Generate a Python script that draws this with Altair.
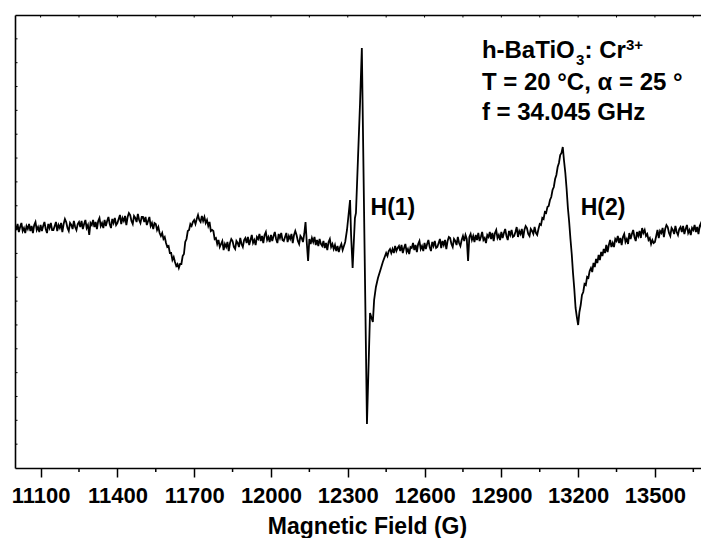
import altair as alt
import pandas as pd

FONT = "Liberation Sans"

# ---- EPR spectrum (arbitrary units) ----
# Segment A: 11000 ... 12290 G, one reading every 5 G (rows of 50 G)
sweep_a_start = 11000
sig_a = [
    243, 238, 244, 236, 241, 245, 237, 240, 235, 242,   # 11000
    239, 244, 237, 242, 235, 243, 246, 238, 241, 236,   # 11050
    243, 237, 242, 246, 239, 235, 244, 240, 245, 238,   # 11100
    238, 242, 246, 237, 243, 240, 245, 236, 244, 249,   # 11150
    246, 240, 237, 245, 243, 239, 247, 241, 238, 244,   # 11200
    246, 241, 247, 239, 244, 248, 240, 243, 233, 245,   # 11250
    243, 248, 241, 246, 239, 247, 250, 242, 245, 240,   # 11300
    248, 242, 247, 251, 244, 240, 249, 245, 250, 243,   # 11350
    245, 249, 253, 244, 250, 247, 252, 243, 251, 255,   # 11400
    253, 247, 244, 252, 250, 246, 254, 248, 245, 251,   # 11450
    251, 246, 251, 243, 247, 251, 242, 245, 239, 245,   # 11500
    244, 238, 241, 235, 232, 235, 229, 231, 225, 221,   # 11550
    222, 215, 215, 208, 211, 206, 202, 204, 200, 204,   # 11600
    204, 212, 214, 226, 229, 237, 238, 244, 242, 246,   # 11650
    248, 244, 249, 253, 248, 246, 252, 247, 251, 245,   # 11700
    248, 242, 246, 237, 238, 237, 229, 230, 224, 228,   # 11750
    221, 224, 227, 218, 224, 221, 226, 217, 225, 229,   # 11800
    227, 221, 219, 227, 225, 221, 230, 224, 221, 228,   # 11850
    230, 225, 231, 223, 228, 233, 225, 228, 223, 231,   # 11900
    229, 234, 227, 232, 225, 233, 236, 228, 231, 226,   # 11950
    233, 227, 232, 236, 229, 225, 234, 230, 235, 228,   # 12000
    227, 231, 235, 226, 232, 229, 234, 225, 233, 237,   # 12050
    233, 227, 224, 232, 230, 226, 234, 246, 225, 207,   # 12100
    229, 224, 230, 226, 231, 223, 228, 222, 229, 224,   # 12150
    222, 227, 220, 225, 218, 226, 229, 221, 224, 219,   # 12200
    223, 217, 222, 216, 221, 224, 218, 222, 226,        # 12250
]
# Segment B: the sharp H(1) line, irregular readings
field_b = [12297, 12305, 12309, 12313, 12319, 12324, 12328, 12332, 12340, 12348,
           12355, 12375, 12387, 12393, 12398, 12403, 12410, 12418, 12430, 12437]
sig_b = [238, 258, 268, 233, 200, 228, 250, 255, 310, 365,
         420, 44, 155, 150, 146, 168, 181, 190, 200, 206]
# Segment C: 12450 ... 13710 G, one reading every 5 G
sweep_c_start = 12450
sig_c = [
    215, 212, 217, 219, 215, 219, 215, 222, 217, 220,   # 12450
    222, 217, 223, 215, 220, 224, 216, 219, 214, 221,   # 12500
    220, 225, 218, 223, 216, 224, 227, 219, 222, 217,   # 12550
    225, 219, 224, 228, 221, 217, 226, 222, 227, 220,   # 12600
    221, 225, 229, 220, 227, 223, 228, 219, 227, 231,   # 12650
    230, 224, 221, 229, 227, 223, 231, 225, 222, 228,   # 12700
    232, 227, 233, 229, 207, 231, 234, 228, 232, 226,   # 12750
    233, 228, 235, 227, 231, 236, 228, 230, 225, 233,   # 12800
    231, 236, 229, 235, 227, 235, 238, 230, 233, 228,   # 12850
    236, 230, 235, 239, 232, 228, 237, 233, 238, 231,   # 12900
    232, 236, 241, 231, 237, 234, 239, 230, 238, 242,   # 12950
    240, 234, 232, 239, 237, 234, 241, 235, 233, 239,   # 13000
    244, 243, 250, 249, 256, 255, 261, 262, 268, 271,   # 13050
    278, 281, 289, 293, 301, 305, 313, 315, 321, 307,   # 13100
    295, 279, 260, 246, 229, 214, 195, 179, 160, 151,   # 13150
    143, 156, 163, 173, 176, 184, 183, 191, 190, 197,   # 13200
    200, 196, 205, 201, 209, 205, 213, 208, 216, 212,   # 13250
    219, 215, 223, 216, 223, 228, 221, 225, 221, 229,   # 13300
    227, 232, 225, 230, 223, 231, 234, 226, 229, 224,   # 13350
    235, 229, 234, 238, 231, 227, 236, 232, 237, 230,   # 13400
    240, 235, 238, 232, 234, 228, 230, 224, 228, 225,   # 13450
    226, 232, 238, 230, 237, 235, 240, 231, 239, 243,   # 13500
    241, 235, 232, 240, 238, 234, 242, 236, 233, 239,   # 13550
    241, 236, 242, 234, 239, 243, 235, 238, 233, 240,   # 13600
    238, 243, 236, 241, 234, 242, 245, 237, 240, 235,   # 13650
    241, 236, 240,                                      # 13700
]

major_ticks = [11100, 11400, 11700, 12000, 12300, 12600, 12900, 13200, 13500]
minor_ticks = [11250, 11550, 11850, 12150, 12450, 12750, 13050, 13350, 13650]
top_ticks = sorted(major_ticks + minor_ticks)
y_ticks = [round(k * 453 / 19, 2) for k in range(1, 19)]

field_a = [sweep_a_start + 5 * i for i in range(len(sig_a))]
field_c = [sweep_c_start + 5 * i for i in range(len(sig_c))]
spec = pd.DataFrame({"B": field_a + field_b + field_c, "S": sig_a + sig_b + sig_c})

xscale = alt.Scale(domain=[11000, 13680], nice=False, zero=False)
yscale = alt.Scale(domain=[0, 453], nice=False, zero=False)

bottom_axis = alt.Axis(
    values=major_ticks, format="d", grid=False,
    labelFont=FONT, labelFontSize=22, labelFontWeight="bold", labelColor="black",
    labelBaseline="alphabetic", labelPadding=25, labelFlush=False, labelOverlap=False,
    tickSize=9, tickWidth=1.5, tickColor="black",
    domainColor="black", domainWidth=1.6,
    title="Magnetic Field (G)", titleFont=FONT, titleFontSize=23, titleFontWeight="bold",
    titleColor="black", titleX=352, titleY=65, titleAlign="center", titleBaseline="alphabetic",
)
left_axis = alt.Axis(labels=False, ticks=False, grid=False, domain=True,
                     domainColor="black", domainWidth=1.6, title=None)
top_axis = alt.Axis(orient="top", labels=False, ticks=False, grid=False, domain=True,
                    domainColor="black", domainWidth=1.6, title=None)

line = alt.Chart(spec).mark_line(color="black", strokeWidth=1.8, clip=True).encode(
    x=alt.X("B:Q", scale=xscale, axis=bottom_axis),
    y=alt.Y("S:Q", scale=yscale, axis=left_axis),
)

ytick_layer = alt.Chart(pd.DataFrame({"yt": y_ticks})).mark_rule(color="black", strokeWidth=1).encode(
    y=alt.Y("yt:Q", scale=yscale, axis=None),
    x=alt.value(0), x2=alt.value(2.5),
)
toptick_layer = alt.Chart(pd.DataFrame({"t": top_ticks})).mark_rule(color="black", strokeWidth=1).encode(
    x=alt.X("t:Q", scale=xscale, axis=top_axis),
    y=alt.value(0), y2=alt.value(2.5),
)
minor_layer = alt.Chart(pd.DataFrame({"m": minor_ticks})).mark_rule(color="black", strokeWidth=1.5).encode(
    x=alt.X("m:Q", scale=xscale, axis=None),
    y=alt.value(453), y2=alt.value(457),
)


def label(txt, bx, sy, size):
    return alt.Chart(pd.DataFrame({"a": [0]})).mark_text(
        align="left", baseline="alphabetic", font=FONT, fontSize=size,
        fontWeight="bold", color="black",
    ).encode(
        x=alt.X(datum=bx, scale=xscale, axis=None),
        y=alt.Y(datum=sy, scale=yscale, axis=None),
        text=alt.value(txt),
    )


texts = [
    label("h-BaTiO", 12824, 409.7, 24),
    label("3", 13192, 403.5, 15),
    label(": Cr", 13225, 409.7, 24),
    label("3+", 13387, 418, 15),
    label("T = 20 \u00b0C, \u03b1 = 25 \u00b0", 12824, 378, 24),
    label("f = 34.045 GHz", 12824, 348, 24),
    label("H(1)", 12389, 253, 23),
    label("H(2)", 13210, 253, 23),
]

chart = alt.layer(line, ytick_layer, toptick_layer, minor_layer, *texts).resolve_axis(
    x="independent", y="independent"
).properties(
    width=686, height=453,
    autosize=alt.AutoSizeParams(type="none"),
    padding={"left": 7, "top": 7, "right": 0, "bottom": 70},
    background="white",
).configure_view(stroke=None)

chart.save("out.html", embed_options={"renderer": "svg", "actions": False})
